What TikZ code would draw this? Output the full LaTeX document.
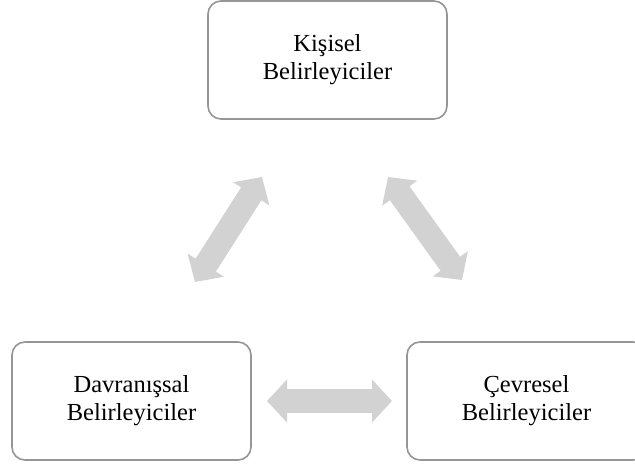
\documentclass[tikz,border=0pt]{standalone}
\usepackage{fontspec}
\setmainfont{Liberation Serif}
\usetikzlibrary{arrows.meta}
\definecolor{boxline}{RGB}{150,150,150}
\definecolor{arrowfill}{RGB}{210,210,210}
\begin{document}
\begin{tikzpicture}[x=1pt,y=-1pt,
  factor/.style={draw=boxline, line width=1.6pt, rounded corners=13pt,
    minimum width=239pt, minimum height=118pt, align=center, inner sep=0pt,
    font=\fontsize{24.5}{28}\selectfont},
  twoway/.style={draw=arrowfill, line width=24pt,
    {Triangle[width=42pt,length=20pt]}-{Triangle[width=42pt,length=20pt]}}]
\useasboundingbox (0,0) rectangle (635,468);

% the three determinants
\node[factor] (personal) at (327.5,60) {Kişisel\\Belirleyiciler};
\node[factor] (behaviour) at (131.5,401) {Davranışsal\\Belirleyiciler};
\node[factor] (environment) at (526.5,401) {Çevresel\\Belirleyiciler};

% ends of the reciprocal arrows
\coordinate (pb1) at (262,177);
\coordinate (pb2) at (195,282);
\coordinate (pe1) at (388,177);
\coordinate (pe2) at (462,280);
\coordinate (be1) at (267,401);
\coordinate (be2) at (392,401);

% two-way influences
\draw[twoway] (pb1) -- (pb2);
\draw[twoway] (pe1) -- (pe2);
\draw[twoway] (be1) -- (be2);
\end{tikzpicture}
\end{document}
